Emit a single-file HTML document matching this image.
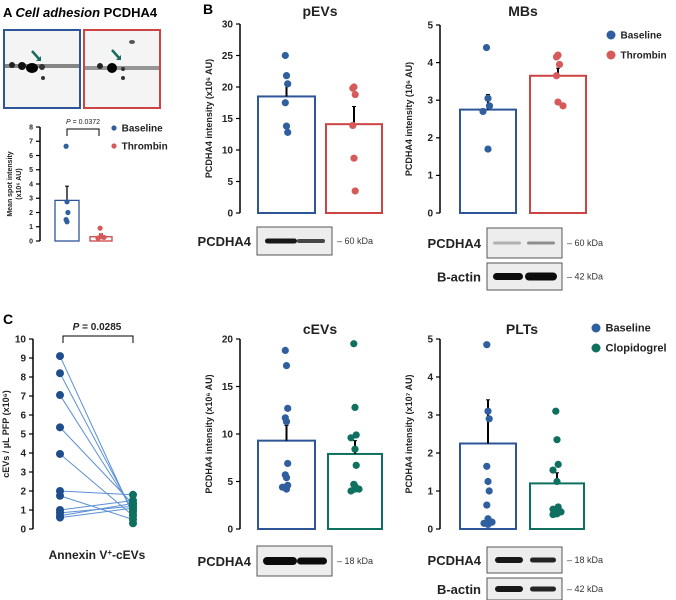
<!DOCTYPE html>
<html><head><meta charset="utf-8"><style>
body{margin:0;background:#fff;}
svg{display:block;font-family:"Liberation Sans",sans-serif;}
</style></head><body>
<svg id="fig" width="676" height="600" viewBox="0 0 676 600">
<text x="3" y="17" font-size="13" font-weight="bold">A <tspan font-style="italic" font-weight="bold">Cell adhesion</tspan> PCDHA4</text>
<text x="203" y="14" font-size="14" font-weight="bold">B</text>
<text x="3" y="324" font-size="14" font-weight="bold">C</text>
<g>
<rect x="4" y="30" width="76" height="78" fill="#f4f4f4" stroke="#2e5597" stroke-width="2"/>
<rect x="5" y="64" width="74" height="4" fill="#555" opacity="0.7"/>
<ellipse cx="32" cy="68" rx="6" ry="5" fill="#000"/><ellipse cx="22" cy="66" rx="4" ry="4" fill="#111"/><ellipse cx="12" cy="65" rx="3" ry="3" fill="#222"/><ellipse cx="42" cy="67" rx="3" ry="3" fill="#333"/><ellipse cx="43" cy="78" rx="2" ry="2" fill="#333"/>
<path d="M32 51 L40 60" stroke="#1a6b60" stroke-width="2.5"/><path d="M36 61 L41 61 L41 56 Z" fill="#1a6b60"/>
</g>
<g>
<rect x="84" y="30" width="76" height="78" fill="#f4f4f4" stroke="#cc4444" stroke-width="2"/>
<rect x="85" y="66" width="74" height="4" fill="#555" opacity="0.6"/>
<ellipse cx="112" cy="68" rx="5" ry="5" fill="#000"/><ellipse cx="100" cy="66" rx="3" ry="3" fill="#222"/><ellipse cx="123" cy="69" rx="2" ry="2" fill="#333"/><ellipse cx="123" cy="78" rx="2" ry="2" fill="#333"/><ellipse cx="132" cy="42" rx="3" ry="2" fill="#555"/>
<path d="M112 50 L120 59" stroke="#1a6b60" stroke-width="2.5"/><path d="M116 60 L121 60 L121 55 Z" fill="#1a6b60"/>
</g>
<g id="plots"></g>
</svg>
<script>
// Panel A data
const aGroups=["Baseline","Thrombin"];
const aMeans=[2.85,0.3];
const aErr=[3.85,0.5];
const aBase=[6.65,2.75,2.0,1.5,1.35];
const aThr=[0.9,0.35,0.25,0.2,0.3];
const aTicks=[0,1,2,3,4,5,6,7,8];
// pEVs
const pMeans=[18.5,14.1];
const pErr=[20.3,16.9];
const pBase=[25,21.8,20.5,17.5,13.8,12.8];
const pThr=[19.8,20,18.8,13.9,8.7,3.5];
const pTicks=[0,5,10,15,20,25,30];
// MBs
const mMeans=[2.75,3.65];
const mErr=[3.15,3.85];
const mBase=[4.4,3.05,2.85,2.7,1.7];
const mThr=[4.15,4.2,3.95,3.65,2.95,2.85];
const mTicks=[0,1,2,3,4,5];
// cEVs
const cMeans=[9.3,7.9];
const cErr=[10.9,9.3];
const cBase=[18.8,17.2,12.7,11.7,11.3,6.9,5.7,5.4,4.6,4.4,4.2];
const cClo=[19.5,12.8,9.9,9.6,8.4,6.7,4.7,4.5,4.2,4.0,4.2];
const cTicks=[0,5,10,15,20];
// PLTs
const lMeans=[2.25,1.2];
const lErr=[3.4,1.48];
const lBase=[4.85,3.1,2.9,1.65,1.25,1.0,0.63,0.27,0.18,0.15,0.12];
const lClo=[3.1,2.35,1.7,1.55,1.25,0.58,0.52,0.5,0.45,0.38,0.4];
const lTicks=[0,1,2,3,4,5];
// Panel C paired data
const pairBase=[9.1,8.2,7.05,5.35,3.95,2.0,1.75,1.0,0.85,0.7,0.6];
const pairClo=[0.75,0.9,1.0,1.3,0.7,1.8,0.5,1.5,1.2,1.35,1.1];
const pairTicks=[0,1,2,3,4,5,6,7,8,9,10];

const NS="http://www.w3.org/2000/svg";
const root=document.getElementById('plots');
function mk(tag,attrs,parent,text){const e=document.createElementNS(NS,tag);for(const k in attrs)e.setAttribute(k,attrs[k]);if(text!==undefined)e.textContent=text;(parent||root).appendChild(e);return e;}
const BLUE="#2e5597",RED="#cc4444",TEAL="#0f7060",DBLUE="#2f5f9e";

function barPanel(o){
  const g=mk('g',{});
  
  
  const y=v=>o.y0-(v-o.min)/(o.max-o.min)*(o.y0-o.y1);
  const ax=mk('line',{x1:o.ax,x2:o.ax,y1:o.y1,y2:o.y0,stroke:'#000','stroke-width':1.5},g);
  
  
  o.ticks.forEach(t=>{
    mk('line',{x1:o.ax-4,x2:o.ax,y1:y(t),y2:y(t),stroke:'#000','stroke-width':1.2},g);
    if(o.tickLabels!==false){const tl=mk('text',{x:o.ax-7,y:y(t)+o.fs/3,'font-size':o.fs,'text-anchor':'end','font-weight':'bold',fill:'#222'},g,String(t));
    
    }
  });
  const yl=mk('text',{transform:`translate(${o.ylx},${(o.y0+o.y1)/2}) rotate(-90)`,'font-size':o.yfs,'text-anchor':'middle','font-weight':'bold',fill:'#222'},g);
  yl.innerHTML=o.ylabel;
  
  
  [0,1].forEach(i=>{
    const bx=o.bars[i];
    const r=mk('rect',{x:bx[0],y:y(o.means[i]),width:bx[1]-bx[0],height:o.y0-y(o.means[i]),fill:'#fff',stroke:o.colors[i],'stroke-width':o.sw},g);
    
    
    const cx=(bx[0]+bx[1])/2;
    const e=mk('line',{x1:cx,x2:cx,y1:y(o.means[i]),y2:y(o.err[i]),stroke:'#000','stroke-width':o.sw},g);
    
    
    mk('line',{x1:cx-2,x2:cx+2,y1:y(o.err[i]),y2:y(o.err[i]),stroke:'#000','stroke-width':1},g);
    o.pts[i].forEach((v,j)=>{
      const off=((j%3)-1)*o.jit*(j>0&&Math.abs(v-o.pts[i][j-1])<(o.max-o.min)*0.03?1:0.3);
      const c=mk('circle',{cx:cx+off,cy:y(v),r:o.r,fill:o.dots[i]},g);
      
      
    });
  });
  if(o.title){const t=mk('text',{x:(o.bars[0][0]+o.bars[1][1])/2,y:o.ty,'font-size':14,'font-weight':'bold','text-anchor':'middle',fill:'#222'},g,o.title);
    
    }
}

barPanel({name:'panel-a-chart',groups:aGroups,means:aMeans,err:aErr,pts:[aBase,aThr],ticks:aTicks,min:0,max:8,y0:241,y1:127,ax:40,
  bars:[[55,79],[90,112]],colors:[BLUE,RED],dots:[DBLUE,"#d65a5a"],sw:1.3,r:2.6,jit:3,fs:7,yfs:7,ylx:16,
  ylabel:'<tspan x="0" dy="-4">Mean spot intensity</tspan><tspan x="0" dy="9">(x10⁶ AU)</tspan>'});
barPanel({name:'pevs-chart',groups:aGroups,means:pMeans,err:pErr,pts:[pBase,pThr],ticks:pTicks,min:0,max:30,y0:213,y1:24,ax:240,
  bars:[[258,315],[326,382]],colors:[BLUE,RED],dots:[DBLUE,"#d65a5a"],sw:2,r:3.6,jit:4,fs:10,yfs:9,ylx:212,title:'pEVs',ty:16,
  ylabel:'PCDHA4 intensity (x10⁶ AU)'});
barPanel({name:'mbs-chart',groups:aGroups,means:mMeans,err:mErr,pts:[mBase,mThr],ticks:mTicks,min:0,max:5,y0:213,y1:25,ax:440,
  bars:[[460,516],[530,586]],colors:[BLUE,RED],dots:[DBLUE,"#d65a5a"],sw:2,r:3.6,jit:5,fs:10,yfs:9,ylx:412,title:'MBs',ty:16,
  ylabel:'PCDHA4 intensity (10⁶ AU)'});
barPanel({name:'cevs-chart',groups:["Baseline","Clopidogrel"],means:cMeans,err:cErr,pts:[cBase,cClo],ticks:cTicks,min:0,max:20,y0:529,y1:339,ax:240,
  bars:[[258,315],[328,382]],colors:[BLUE,TEAL],dots:[DBLUE,TEAL],sw:2,r:3.6,jit:4,fs:10,yfs:9,ylx:212,title:'cEVs',ty:334,
  ylabel:'PCDHA4 intensity (x10⁶ AU)'});
barPanel({name:'plts-chart',groups:["Baseline","Clopidogrel"],means:lMeans,err:lErr,pts:[lBase,lClo],ticks:lTicks,min:0,max:5,y0:529,y1:339,ax:440,
  bars:[[460,516],[530,584]],colors:[BLUE,TEAL],dots:[DBLUE,TEAL],sw:2,r:3.6,jit:4,fs:10,yfs:9,ylx:412,title:'PLTs',ty:334,
  ylabel:'PCDHA4 intensity (x10⁷ AU)'});

// Panel C paired plot
(function(){
  const g=mk('g',{});
  
  
  const y0=529,y1=339,ax=33,xl=60,xr=133;
  const y=v=>y0-v/10*(y0-y1);
  mk('line',{x1:ax,x2:ax,y1:y1,y2:y0,stroke:'#000','stroke-width':1.5},g);
  pairTicks.forEach(t=>{
    mk('line',{x1:ax-4,x2:ax,y1:y(t),y2:y(t),stroke:'#000','stroke-width':1.2},g);
    const tl=mk('text',{x:ax-7,y:y(t)+3.5,'font-size':10,'text-anchor':'end','font-weight':'bold',fill:'#222'},g,String(t));
    
    
  });
  pairBase.forEach((v,i)=>{
    const l=mk('line',{x1:xl,y1:y(v),x2:xr,y2:y(pairClo[i]),stroke:'#5b8fd6','stroke-width':1},g);
    
    
  });
  pairBase.forEach(v=>{const c=mk('circle',{cx:xl,cy:y(v),r:4,fill:'#1f4e8c'},g);
    
    });
  pairClo.concat([0.3]).forEach(v=>{const c=mk('circle',{cx:xr,cy:y(v),r:4,fill:TEAL},g);
    
    });
  const yl=mk('text',{transform:`translate(9,${(y0+y1)/2}) rotate(-90)`,'font-size':9,'text-anchor':'middle','font-weight':'bold',fill:'#222'},g,'cEVs / µL PFP (x10⁶)');
  
  
  mk('path',{d:`M${xl+3} 343 V336 H${xr} V343`,fill:'none',stroke:'#000','stroke-width':1},g);
  const p=mk('text',{x:97,y:330,'font-size':10,'text-anchor':'middle','font-weight':'bold',fill:'#222'},g);
  p.innerHTML='<tspan font-style="italic">P</tspan> = 0.0285';
  
  
  const xt=mk('text',{x:97,y:559,'font-size':12,'text-anchor':'middle','font-weight':'bold',fill:'#222'},g);
  xt.innerHTML='Annexin V<tspan dy="-4" font-size="8">+</tspan><tspan dy="4">-cEVs</tspan>';
  
  
})();

// Panel A extras
(function(){
  mk('path',{d:'M67 136 V129 H99 V136',fill:'none',stroke:'#000','stroke-width':1});
  const p=mk('text',{x:83,y:124,'font-size':7,'text-anchor':'middle',fill:'#222'});
  p.innerHTML='<tspan font-style="italic">P</tspan> = 0.0372';
  
  
})();

function legend(name,x,y,items,fs,r,gap){
  const g=mk('g',{});
  
  
  items.forEach((it,i)=>{
    mk('circle',{cx:x,cy:y+i*gap,r:r,fill:it[1]},g);
    const t=mk('text',{x:x+r+5,y:y+i*gap+fs/3,'font-size':fs,'font-weight':'bold',fill:'#222'},g,it[0]);
    
    
  });
}
legend('legend-a',114,128,[["Baseline",DBLUE],["Thrombin","#d65a5a"]],10,2.6,18);
legend('legend-b',611,35,[["Baseline",DBLUE],["Thrombin","#d65a5a"]],10,4.5,20);
legend('legend-c',596,328,[["Baseline",DBLUE],["Clopidogrel",TEAL]],11,4.5,20);

function blot(name,label,x,y,w,h,kda,bands){
  const g=mk('g',{});
  
  
  mk('rect',{x:x,y:y,width:w,height:h,fill:'#ededed',stroke:'#555','stroke-width':1},g);
  bands.forEach(b=>mk('rect',{x:b[0],y:y+h/2-b[2]/2,width:b[1],height:b[2],rx:b[2]/2,fill:'#000',opacity:b[3]},g));
  const t=mk('text',{x:x-6,y:y+h/2+5,'font-size':13,'font-weight':'bold','text-anchor':'end',fill:'#222'},g,label);
  
  
  const k=mk('text',{x:x+w+5,y:y+h/2+3,'font-size':9,fill:'#333'},g,'– '+kda+' kDa');
  
  
}
blot('blot-pevs','PCDHA4',257,227,75,28,60,[[265,32,5,0.9],[297,28,4,0.7]]);
blot('blot-mbs-pcdha4','PCDHA4',487,228,75,30,60,[[493,28,3,0.25],[527,28,3,0.4]]);
blot('blot-mbs-actin','B-actin',487,263,75,27,42,[[493,30,7,0.95],[525,32,8,0.95]]);
blot('blot-cevs','PCDHA4',257,546,75,30,18,[[263,34,8,0.95],[297,30,7,0.95]]);
blot('blot-plts-pcdha4','PCDHA4',487,547,75,26,18,[[495,28,6,0.9],[530,26,5,0.85]]);
blot('blot-plts-actin','B-actin',487,578,75,22,42,[[495,28,6,0.9],[530,26,5,0.85]]);
</script>
</body></html>
